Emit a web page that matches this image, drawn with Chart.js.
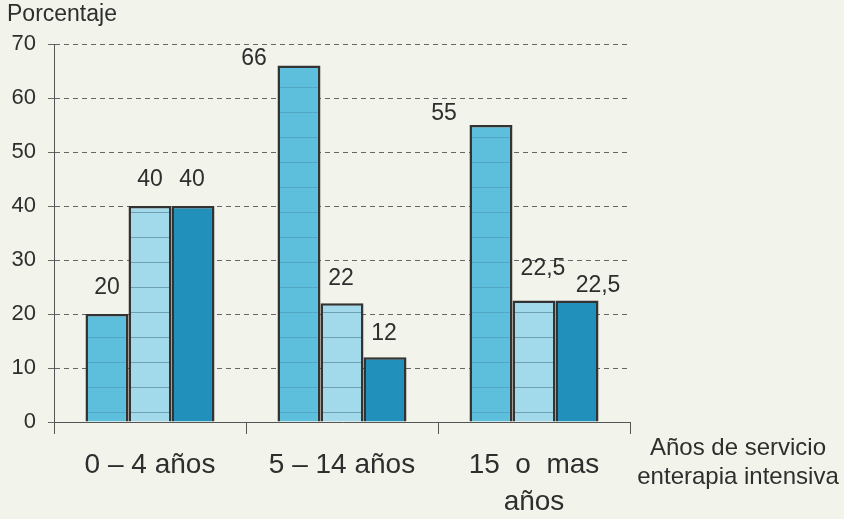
<!DOCTYPE html>
<html>
<head>
<meta charset="utf-8">
<script src="https://cdn.jsdelivr.net/npm/chart.js@4.4.1/dist/chart.umd.min.js"></script>
<style>
    html, body { margin: 0; padding: 0; background: #f2f3ea; }
    #wrap { width: 844px; height: 519px; }
</style>
</head>
<body>
<div id="wrap"><canvas id="chart" width="844" height="519"></canvas></div>
<script>
// Chart data
const categories = [['0 – 4 años'], ['5 – 14 años'], ['15  o  mas', 'años']];
const serieA = [20, 66, 55];
const serieB = [40, 22, 22.5];
const serieC = [40, 12, 22.5];
const yTicks = [0, 10, 20, 30, 40, 50, 60, 70];
const yTitle = 'Porcentaje';
const xTitle = ['Años de servicio', 'enterapia intensiva'];

// label nudges (px, relative to bar top centre) for each series
const nudges = [
    [[0, -26], [-45, -7], [-47, -11]],
    [[0, -26], [-1, -25], [9, -32]],
    [[-1, -26], [-1, -24], [21, -15]]
];

function stripes(base, line) {
    const c = document.createElement('canvas');
    c.width = 8;
    c.height = 25;
    const g = c.getContext('2d');
    g.fillStyle = base;
    g.fillRect(0, 0, 8, 25);
    g.fillStyle = line;
    g.fillRect(0, 12, 8, 1);
    return g.createPattern(c, 'repeat');
}

const bgPlugin = {
    id: 'bg',
    beforeDraw(chart) {
        const ctx = chart.ctx;
        ctx.save();
        ctx.fillStyle = '#f2f3ea';
        ctx.fillRect(0, 0, chart.width, chart.height);
        ctx.restore();
    }
};

const textPlugin = {
    id: 'texts',
    afterDatasetsDraw(chart) {
        const ctx = chart.ctx;
        ctx.save();
        ctx.fillStyle = '#2e2e2e';
        ctx.textAlign = 'center';
        ctx.textBaseline = 'middle';
        ctx.font = '23px "Liberation Sans", Arial, sans-serif';
        chart.data.datasets.forEach((ds, i) => {
            chart.getDatasetMeta(i).data.forEach((bar, j) => {
                const v = String(ds.data[j]).replace('.', ',');
                ctx.fillText(v, bar.x + nudges[i][j][0], bar.y + nudges[i][j][1]);
            });
        });

        // axis titles
        ctx.font = '23px "Liberation Sans", Arial, sans-serif';
        ctx.textAlign = 'left';
        ctx.fillText(yTitle, 7, 15);
        ctx.font = '24px "Liberation Sans", Arial, sans-serif';
        ctx.textAlign = 'center';
        const cx = chart.chartArea.right + 108;
        ctx.fillText(xTitle[0], cx, 448);
        ctx.fillText(xTitle[1], cx, 477);
        ctx.restore();
    }
};

const border = '#333';

new Chart(document.getElementById('chart').getContext('2d'), {
    type: 'bar',
    data: {
        labels: categories,
        datasets: [
            {
                data: serieA,
                backgroundColor: stripes('#5ebfdc', '#52a8c3'),
                borderColor: border,
                borderWidth: 2.5
            },
            {
                data: serieB,
                backgroundColor: stripes('#a2daeb', '#6f9fb4'),
                borderColor: border,
                borderWidth: 2.5
            },
            {
                data: serieC,
                backgroundColor: '#2191bc',
                borderColor: border,
                borderWidth: 2.5
            }
        ]
    },
    options: {
        responsive: false,
        animation: false,
        layout: { padding: { top: 44, right: 214, left: 0, bottom: 0 } },
        datasets: {
            bar: { categoryPercentage: 0.672, barPercentage: 1.0 }
        },
        plugins: {
            legend: { display: false },
            tooltip: { enabled: false }
        },
        scales: {
            x: {
                afterFit(scale) { scale.height = 97; },
                grid: {
                    offset: true,
                    drawOnChartArea: false,
                    drawTicks: true,
                    tickLength: 12,
                    color: '#555'
                },
                border: { color: '#555', width: 1 },
                ticks: {
                    color: '#2e2e2e',
                    padding: 12,
                    maxRotation: 0,
                    font: { family: '"Liberation Sans", Arial, sans-serif', size: 28, lineHeight: 1.35 }
                }
            },
            y: {
                min: 0,
                max: 70,
                afterFit(scale) { scale.width = 54; },
                afterBuildTicks(scale) { scale.ticks = yTicks.map(v => ({ value: v })); },
                grid: {
                    color: '#666',
                    tickLength: 6,
                    lineWidth: 1
                },
                border: { color: '#555', width: 1, dash: [5, 4] },
                ticks: {
                    color: '#2e2e2e',
                    padding: 12,
                    font: { family: '"Liberation Sans", Arial, sans-serif', size: 22 }
                }
            }
        }
    },
    plugins: [bgPlugin, textPlugin]
});
</script>
</body>
</html>
